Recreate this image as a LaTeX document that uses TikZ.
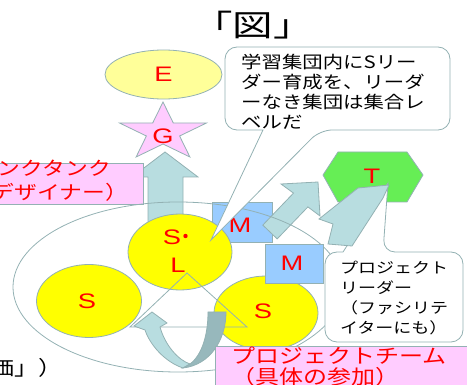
\documentclass[tikz,border=0pt]{standalone}
\usepackage{fontspec}
\setmainfont{Noto Sans CJK JP}
\newfontfamily\jpA[FakeStretch=1.2]{Noto Sans CJK JP}
\newfontfamily\jpT[FakeStretch=1.35]{Noto Sans CJK JP}
\newfontfamily\latA[FakeStretch=1.3]{Liberation Sans}
\usetikzlibrary{shapes.geometric}
\definecolor{edgec}{HTML}{93B1B3}
\definecolor{tealc}{HTML}{B8DDE0}
\definecolor{tealdk}{HTML}{97B8BC}
\definecolor{pinkc}{HTML}{FFCCFF}
\definecolor{yelc}{HTML}{FFFF00}
\definecolor{paleyel}{HTML}{FFFF99}
\definecolor{mblue}{HTML}{99CCFF}
\definecolor{hexc}{HTML}{66EE55}
\definecolor{redc}{HTML}{FF0000}
\begin{document}
\begin{tikzpicture}[x=1pt,y=-1pt,
  outl/.style={draw=edgec, line width=0.8pt},
  redl/.style={text=redc, inner sep=0, font=\latA\fontsize{21}{21}\selectfont},
  tealarrow/.style={outl, fill=tealc},
  yell/.style={outl, ellipse, fill=yelc, inner sep=0},
  mbox/.style={outl, fill=mblue, inner sep=0},
  callout/.style={outl, fill=white},
  redjp/.style={text=redc, inner sep=0}
]
\useasboundingbox (0,0) rectangle (467,385);
\clip (0,0) rectangle (467,385);

% title
\node[font=\jpT\fontsize{30}{30}\selectfont] (title) at (253,25) {「図」};

% E ellipse and star
\node[outl, ellipse, fill=paleyel, minimum width=117, minimum height=49, inner sep=0] (E) at (163.5,74.5) {};
\node[redl] (Et) at (E) {E};
\draw[outl, fill=pinkc] (163,102) -- (173.3,123) -- (206.5,123) -- (179.6,136) -- (189.9,157)
  -- (163,144) -- (136.1,157) -- (146.4,136) -- (119.5,123) -- (152.7,123) -- cycle;
\node[redl] (G) at (163,136) {G};

% up arrow
\draw[tealarrow] (165,152) -- (198,177) -- (183,177) -- (183,235) -- (148,235) -- (148,177) -- (132,177) -- cycle;

% left pink box
\draw[outl, fill=pinkc] (-5,163) rectangle (143,204);
\node[redjp, anchor=east, font=\jpA\fontsize{19}{19}\selectfont] (lb1) at (111,168) {ンクタンク};
\node[redjp, anchor=east, font=\jpA\fontsize{19}{19}\selectfont] (lb2) at (128,192) {デザイナー）};

% hexagon T
\draw[outl, fill=hexc] (323,175) -- (338,152) -- (407,152) -- (423,175) -- (407,202) -- (338,202) -- cycle;
\node[redl] (T) at (372,176) {T};

% M1 box
\node[mbox, minimum width=60, minimum height=40] (M1) at (242,222) {};
\node[redl] (M1t) at (240,225) {M};

% arrow 1
\draw[tealarrow] (262.8,225.1) -- (293.5,193.1) -- (281,184) -- (318,182) -- (320,216)
  -- (307.9,206.9) -- (277.2,238.9) -- cycle;

% big ellipse
\draw[outl] (178,287) ellipse [x radius=165, y radius=85];

% S ellipses
\node[yell, minimum width=104, minimum height=76] (SL) at (180,252) {};
\node[yell, minimum width=105, minimum height=73] (S1) at (89,301) {};
\node[yell, minimum width=104, minimum height=74] (S2) at (266,313) {};
\node[redl] (SLt) at (172,237) {S};
\fill[redc] (185.5,236) circle [radius=2.2];
\node[redl] (Lt) at (178,265) {L};
\node[redl] (S1t) at (87,301) {S};
\node[redl] (S2t) at (263,311) {S};

% triangle lines
\coordinate (ta) at (187,273);
\coordinate (tb) at (130,327);
\coordinate (tc) at (247,327);
\draw[outl] (ta) -- (tb) -- (tc) -- cycle;

% U-turn arrow
\draw[outl, fill=tealc] (134,326) -- (152,312) -- (167,323) -- (160,327)
  .. controls (165,345) and (178,360) .. (190,364) -- (183,368)
  .. controls (165,362) and (150,345) .. (145,330) -- cycle;
\draw[outl, fill=tealdk] (208,312) -- (226,312) .. controls (226,340) and (210,365) .. (183,368)
  -- (190,364) .. controls (202,355) and (208,335) .. (208,312) -- cycle;

% M2 box
\node[mbox, minimum width=58, minimum height=39] (M2) at (294,263.5) {};
\node[redl] (M2t) at (292,263) {M};

% top callout
\draw[callout] (263,130) [rounded corners=12] -- (225,130) -- (225,47) -- (450,47) -- (450,130) -- (320,130) [sharp corners] -- (211,240) -- cycle;
\node[anchor=north west, inner sep=0, align=left, font=\jpA\fontsize{17}{20}\selectfont] (c1) at (241,53.5)
  {学習集団内にSリー\\ダー育成を、リーダ\\ーなき集団は集合レ\\ベルだ};

% right callout
\draw[callout] (343,252) [rounded corners=12] -- (325,252) -- (325,342) -- (463,342) -- (463,252) -- (383,252) [sharp corners] -- (388,183) -- cycle;
\node[anchor=north west, inner sep=0, align=left, font=\jpA\fontsize{15}{20}\selectfont] (c2) at (340,260.5)
  {プロジェクト\\リーダー\\（ファシリテ\\イターにも）};

% zigzag arrow
\draw[tealarrow] (319,219) -- (333,224) -- (328,244) -- (352,246) -- (383,198) -- (389,185) -- (358,188) -- cycle;

% bottom pink box
\draw[outl, fill=pinkc] (215,346) rectangle (480,400);
\node[redjp, anchor=north west, align=left, font=\jpA\fontsize{20}{21}\selectfont] (pt) at (231,347)
  {プロジェクトチーム\\（具体の参加）};

% bottom-left text
\node[anchor=east, inner sep=0, font=\jpA\fontsize{20}{20}\selectfont] (hy) at (63,368) {価」）};
\end{tikzpicture}
\end{document}
